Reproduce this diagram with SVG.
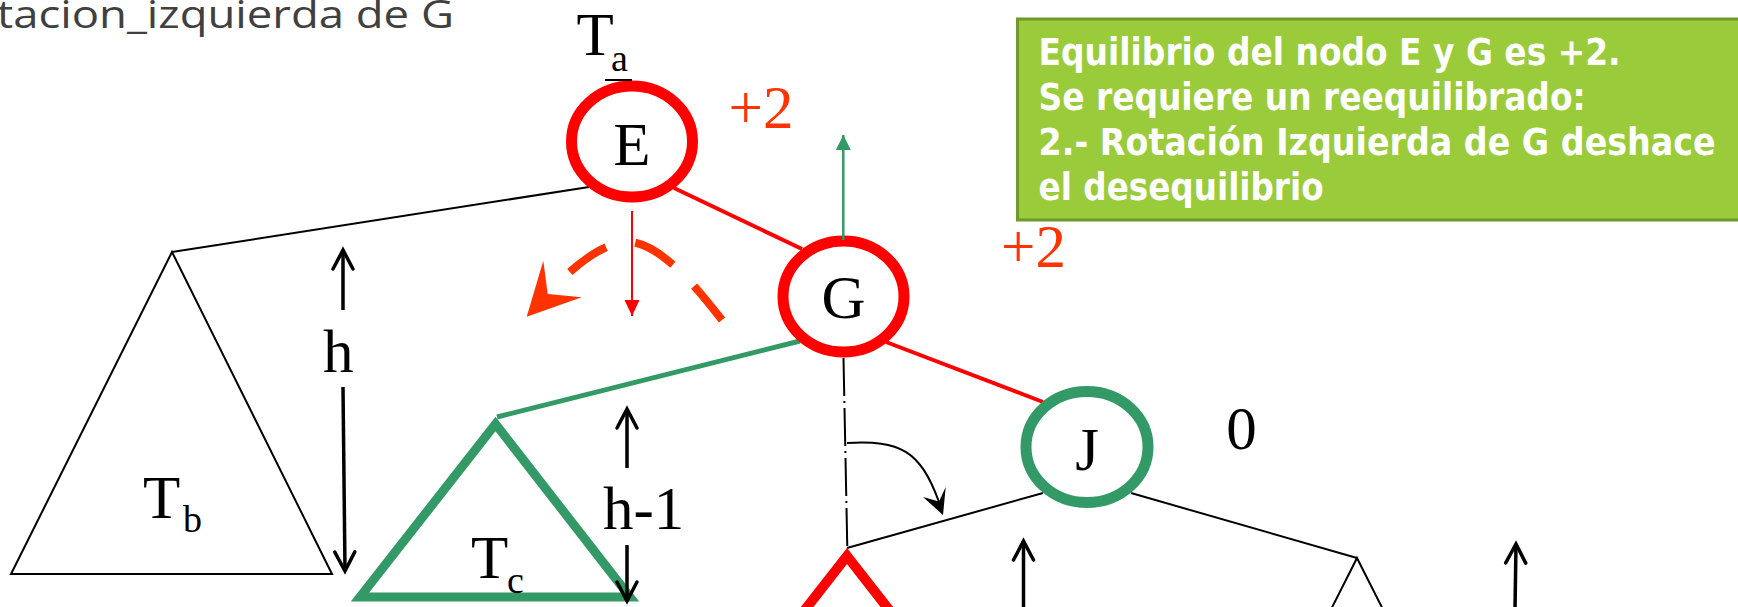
<svg xmlns="http://www.w3.org/2000/svg" width="1738" height="607" viewBox="0 0 1738 607">
<style>
.serif{font-family:"Liberation Serif","Times New Roman",serif;fill:#000}
.big{font-size:61px}
.sub{font-size:38px}
.bal{font-family:"Liberation Serif",serif;font-size:61px;fill:#FF3300}
.thin{stroke:#000;stroke-width:2;fill:none}
.redE{stroke:#FF0000;stroke-width:4;fill:none}
.grnE{stroke:#339966;stroke-width:5;fill:none}
.hArr{stroke:#000;stroke-width:3.5;fill:none;marker-end:url(#vArrow)}
.boxt{font-family:"DejaVu Sans","Liberation Sans",sans-serif;font-weight:bold;font-size:37px;fill:#FFFFFF}
.title{font-family:"Open Sans","Noto Sans",sans-serif;font-size:39px;fill:#404040}
</style>
<defs>
<marker id="vArrow" markerUnits="userSpaceOnUse" viewBox="-24 -14 28 28" markerWidth="28" markerHeight="28" refX="0" refY="0" orient="auto" overflow="visible">
<path d="M-19,-10 L0,0 L-19,10" fill="none" stroke="#000" stroke-width="3.5" stroke-linecap="round" stroke-linejoin="miter"/>
</marker>
<marker id="redHead" markerUnits="userSpaceOnUse" viewBox="-18 -10 20 20" markerWidth="20" markerHeight="20" refX="0" refY="0" orient="auto" overflow="visible">
<path d="M0,0 L-16,-7.5 L-16,7.5 Z" fill="#FF0000"/>
</marker>
<marker id="grnHead" markerUnits="userSpaceOnUse" viewBox="-18 -10 20 20" markerWidth="20" markerHeight="20" refX="0" refY="0" orient="auto" overflow="visible">
<path d="M0,0 L-15,-7.5 L-15,7.5 Z" fill="#339966"/>
</marker>
</defs>
<rect width="1738" height="607" fill="#FFFFFF"/>

<text class="title" x="-3" y="28" textLength="457" lengthAdjust="spacingAndGlyphs">tacion_izquierda de G</text>

<g id="info-box">
<rect x="1017.5" y="19" width="740" height="201" fill="#9ACB3A" stroke="#6E9A2A" stroke-width="3"/>
<text class="boxt" x="1038.6" y="65" textLength="582" lengthAdjust="spacingAndGlyphs">Equilibrio del nodo E y G es +2.</text>
<text class="boxt" x="1038.6" y="110" textLength="547" lengthAdjust="spacingAndGlyphs">Se requiere un reequilibrado:</text>
<text class="boxt" x="1038.6" y="155" textLength="677" lengthAdjust="spacingAndGlyphs">2.- Rotación Izquierda de G deshace</text>
<text class="boxt" x="1038.6" y="200" textLength="285" lengthAdjust="spacingAndGlyphs">el desequilibrio</text>
</g>

<g id="connectors">
<line class="thin" x1="589" y1="187" x2="172" y2="252"/>
<line class="redE" x1="674" y1="188" x2="802" y2="249"/>
<line class="grnE" x1="800" y1="341" x2="497" y2="417"/>
<line class="redE" x1="886" y1="342" x2="1043" y2="402"/>
<line class="thin" x1="1043" y1="493" x2="847" y2="548"/>
<line class="thin" x1="1131" y1="493" x2="1357" y2="558"/>
<line x1="843.5" y1="358" x2="847.3" y2="548" stroke="#000" stroke-width="2" stroke-dasharray="38 5 2 5"/>
</g>

<g id="node-Tb">
<polygon points="172,252 11,574 332,574" fill="none" stroke="#000" stroke-width="2"/>
<text class="serif big" x="143" y="518">T</text>
<text class="serif sub" x="183" y="532">b</text>
</g>

<g id="node-Tc">
<polygon points="495.5,424 360,597 630,597" fill="none" stroke="#339966" stroke-width="9" stroke-linejoin="miter"/>
<text class="serif big" x="471" y="578">T</text>
<text class="serif sub" x="507" y="593">c</text>
</g>

<g id="node-red-subtree">
<polygon points="847,556 765,661 929,661" fill="none" stroke="#FF0000" stroke-width="10" stroke-linejoin="miter"/>
</g>

<g id="node-right-subtree">
<polygon points="1357,558 1307,657 1407,657" fill="none" stroke="#000" stroke-width="2"/>
</g>

<g id="node-E">
<ellipse cx="632" cy="141.5" rx="60.5" ry="55.5" fill="#FFFFFF" stroke="#FF0000" stroke-width="11"/>
<text class="serif big" x="632" y="165" text-anchor="middle">E</text>
</g>

<g id="node-G">
<ellipse cx="843.5" cy="296.5" rx="60.5" ry="55.5" fill="#FFFFFF" stroke="#FF0000" stroke-width="11"/>
<text class="serif big" x="843.5" y="318" text-anchor="middle">G</text>
</g>

<g id="node-J">
<ellipse cx="1087" cy="447" rx="61" ry="55.5" fill="#FFFFFF" stroke="#339966" stroke-width="11"/>
<text class="serif big" x="1087" y="470" text-anchor="middle">J</text>
</g>

<g id="labels">
<text class="serif big" x="576.5" y="55">T</text>
<text class="serif sub" x="611" y="71">a</text>
<line x1="605" y1="80" x2="632" y2="80" stroke="#000" stroke-width="2"/>
<text class="bal" x="728.5" y="128">+2</text>
<text class="bal" x="1001" y="267">+2</text>
<text class="serif big" x="1241.5" y="449" text-anchor="middle">0</text>
<text class="serif big" x="323" y="372">h</text>
<text class="serif big" x="603" y="529">h-1</text>
</g>

<g id="annotations">
<line class="hArr" x1="343" y1="310" x2="343" y2="250"/>
<line class="hArr" x1="343" y1="387" x2="345" y2="571"/>
<line class="hArr" x1="627" y1="468" x2="627" y2="409"/>
<line class="hArr" x1="627" y1="545" x2="627" y2="601"/>
<line class="hArr" x1="1023.5" y1="610" x2="1023.5" y2="541"/>
<line class="hArr" x1="1515" y1="610" x2="1516" y2="544"/>
<line x1="632" y1="211" x2="632" y2="316" stroke="#FF0000" stroke-width="2" marker-end="url(#redHead)"/>
<line x1="843.3" y1="240" x2="843.3" y2="135" stroke="#339966" stroke-width="2.5" marker-end="url(#grnHead)"/>
<path d="M722,320 C704,297 662,242 628,242 C602,242 572,268 548,293" fill="none" stroke="#FF3300" stroke-width="8" stroke-dasharray="44 30 44 30 44 200"/>
<polygon points="526.7,316.7 543.3,260.7 547.7,294 581.7,297.3" fill="#FF3300"/>
<path d="M847,443 C900,440 920,450 939,502" fill="none" stroke="#000" stroke-width="2"/>
<polygon points="943,515 923,497 939,501.5 945.7,487" fill="#000"/>
</g>
</svg>
